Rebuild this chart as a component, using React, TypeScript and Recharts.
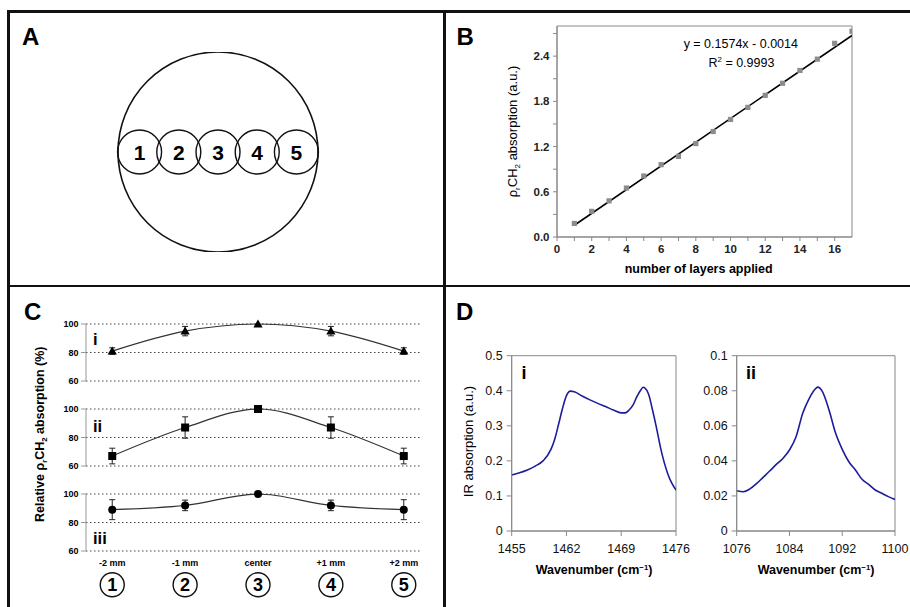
import React from 'react';
import {
  ComposedChart,
  LineChart,
  ScatterChart,
  Line,
  Scatter,
  XAxis,
  YAxis,
  CartesianGrid,
  ReferenceArea,
  ErrorBar,
} from 'recharts';

const FONT = 'Arial, "Liberation Sans", Helvetica, sans-serif';

// ---------------- Panel A: sample spots ----------------
const aSpotPositions = [1, 2, 3, 4, 5];
const aSpotLabels = ['1', '2', '3', '4', '5'];
const aSampleCenter = [3];

// ---------------- Panel B: calibration ----------------
const bLayers = [1, 2, 3, 4, 5, 6, 7, 8, 9, 10, 11, 12, 13, 14, 15, 16, 17];
const bAbsorption = [0.18, 0.34, 0.48, 0.65, 0.81, 0.96, 1.07, 1.24, 1.4, 1.56, 1.72, 1.88, 2.04, 2.21, 2.36, 2.57, 2.73];
const bFitLayers = [1, 17];
const bFitValues = [0.156, 2.674];
const bXTicks = [0, 1, 2, 3, 4, 5, 6, 7, 8, 9, 10, 11, 12, 13, 14, 15, 16];
const bYTicks = [0, 0.3, 0.6, 0.9, 1.2, 1.5, 1.8, 2.1, 2.4, 2.7];

// ---------------- Panel C: relative absorption ----------------
const cPositions = [1, 2, 3, 4, 5];
const cPosLabels = ['-2 mm', '-1 mm', 'center', '+1 mm', '+2 mm'];
const cSpotNumbers = ['1', '2', '3', '4', '5'];
const cYTicks = [60, 80, 100];
const cIValues = [81, 95, 100, 95, 81];
const cIErrors = [2.3, 3.3, 0, 3.3, 2.3];
const cIIValues = [67, 87, 100, 87, 67];
const cIIErrors = [5.5, 7.5, 0, 7.5, 5.5];
const cIIIValues = [89, 92, 100, 92, 89];
const cIIIErrors = [7, 3.7, 0, 3.7, 7];

// ---------------- Panel D: IR spectra ----------------
const dIWave = [1455, 1456, 1457, 1458, 1459, 1460, 1460.5, 1461, 1461.5, 1462, 1462.5, 1463, 1464, 1465, 1466, 1467, 1468, 1469, 1469.5, 1470, 1470.5, 1471, 1471.5, 1471.8, 1472, 1472.5, 1473, 1473.5, 1474, 1474.5, 1475, 1475.5, 1476];
const dIAbs = [0.16, 0.166, 0.174, 0.185, 0.2, 0.232, 0.262, 0.305, 0.35, 0.386, 0.399, 0.397, 0.385, 0.374, 0.364, 0.355, 0.345, 0.337, 0.337, 0.345, 0.359, 0.383, 0.402, 0.41, 0.408, 0.39, 0.345, 0.295, 0.24, 0.195, 0.16, 0.135, 0.117];
const dIXTicks = [1455, 1462, 1469, 1476];
const dIYTicks = [0, 0.1, 0.2, 0.3, 0.4, 0.5];

const dIIWave = [1076, 1077, 1078, 1079, 1080, 1081, 1082, 1083, 1084, 1085, 1086, 1087, 1088, 1088.3, 1089, 1090, 1091, 1092, 1093, 1094, 1095, 1096, 1097, 1098, 1099, 1100];
const dIIAbs = [0.023, 0.0224, 0.024, 0.027, 0.0306, 0.0342, 0.038, 0.0414, 0.0462, 0.0538, 0.067, 0.0757, 0.0814, 0.0821, 0.0795, 0.069, 0.0557, 0.0466, 0.0395, 0.0348, 0.0295, 0.0266, 0.0234, 0.0215, 0.0196, 0.018];
const dIIXTicks = [1076, 1084, 1092, 1100];
const dIIYTicks = [0, 0.02, 0.04, 0.06, 0.08, 0.1];

// ---------------- derived tables ----------------
const aOuter = aSampleCenter.map((x) => ({ x, y: 0 }));
const aSpots = aSpotPositions.map((x, i) => ({ x, y: 0, label: aSpotLabels[i] }));
const bPoints = bLayers.map((x, i) => ({ x, y: bAbsorption[i] }));
const bFit = bFitLayers.map((x, i) => ({ x, y: bFitValues[i] }));
const mkC = (vals: number[], errs: number[]) => cPositions.map((pos, i) => ({ pos, v: vals[i], err: errs[i] }));
const cIData = mkC(cIValues, cIErrors);
const cIIData = mkC(cIIValues, cIIErrors);
const cIIIData = mkC(cIIIValues, cIIIErrors);
const dIData = dIWave.map((w, i) => ({ w, a: dIAbs[i] }));
const dIIData = dIIWave.map((w, i) => ({ w, a: dIIAbs[i] }));

// ---------------- helpers ----------------
const Txt = ({ x, base, fs, weight = 'normal', anchor = 'start', children }: any) => {
  const style: any = {
    position: 'absolute',
    top: base - 0.8465 * fs,
    fontSize: fs,
    lineHeight: `${fs}px`,
    fontWeight: weight,
    color: '#000',
    whiteSpace: 'nowrap',
    fontFamily: FONT,
  };
  if (anchor === 'middle') return <div style={{ ...style, left: x - 200, width: 400, textAlign: 'center' }}>{children}</div>;
  return <div style={{ ...style, left: x }}>{children}</div>;
};

const RotTxt = ({ cx, cy, fs, weight = 'normal', children }: any) => (
  <div
    style={{
      position: 'absolute',
      left: cx - 200,
      top: cy - fs / 2,
      width: 400,
      height: fs,
      lineHeight: `${fs}px`,
      textAlign: 'center',
      fontSize: fs,
      fontWeight: weight,
      transform: 'rotate(-90deg)',
      whiteSpace: 'nowrap',
      fontFamily: FONT,
      color: '#000',
    }}
  >
    {children}
  </div>
);

const Sub = ({ fs, children }: any) => (
  <span style={{ fontSize: fs * 0.62, position: 'relative', top: fs * 0.25 }}>{children}</span>
);
const Sup = ({ fs, children }: any) => (
  <span style={{ fontSize: fs * 0.62, position: 'relative', top: -fs * 0.38 }}>{children}</span>
);

const Rule = ({ left, top, width, height }: any) => (
  <div style={{ position: 'absolute', left, top, width, height, background: '#111' }} />
);

// shapes
const OuterCircle = (p: any) => <circle cx={p.cx} cy={p.cy} r={100} fill="none" stroke="#111" strokeWidth={1.6} />;
const SpotCircle = (p: any) => (
  <g>
    <circle cx={p.cx} cy={p.cy} r={22} fill="none" stroke="#111" strokeWidth={1.4} />
    <text x={p.cx} y={p.cy + 7.5} textAnchor="middle" fontSize={21} fontWeight="bold" fontFamily={FONT} fill="#000">
      {p.payload.label}
    </text>
  </g>
);
const GraySquare = (p: any) => <rect x={p.cx - 2.6} y={p.cy - 2.6} width={5.2} height={5.2} fill="#8c8c8c" />;

const BXTick = (p: any) => {
  const v = p.payload.value;
  if (v % 2 !== 0) return <g />;
  return (
    <text x={p.x} y={p.y} dy="0.71em" textAnchor="middle" fontSize={11.5} fontWeight="bold" fill="#222" fontFamily={FONT}>
      {v}
    </text>
  );
};
const BYTick = (p: any) => {
  const v = p.payload.value;
  const idx = bYTicks.findIndex((t) => Math.abs(t - v) < 1e-6);
  if (idx % 2 !== 0) return <g />;
  return (
    <text x={p.x} y={p.y} dy="0.355em" textAnchor="end" fontSize={11.5} fontWeight="bold" fill="#222" fontFamily={FONT}>
      {v.toFixed(1)}
    </text>
  );
};

const CTick = (p: any) => {
  const i = cPositions.indexOf(p.payload.value);
  if (i < 0) return <g />;
  return (
    <g>
      <text x={p.x} y={p.y + 14.7} textAnchor="middle" fontSize={9} fontWeight="bold" fill="#000" fontFamily={FONT}>
        {cPosLabels[i]}
      </text>
      <circle cx={p.x} cy={p.y + 33.7} r={12} fill="none" stroke="#111" strokeWidth={1.4} />
      <text x={p.x} y={p.y + 40.1} textAnchor="middle" fontSize={18} fontWeight="bold" fill="#000" fontFamily={FONT}>
        {cSpotNumbers[i]}
      </text>
    </g>
  );
};

const triangleDot = (p: any) => (
  <path key={`t${p.index}`} d={`M${p.cx},${p.cy - 4.6}L${p.cx - 4.6},${p.cy + 3.4}L${p.cx + 4.6},${p.cy + 3.4}Z`} fill="#000" />
);
const squareDot = (p: any) => <rect key={`s${p.index}`} x={p.cx - 4} y={p.cy - 4} width={8} height={8} fill="#000" />;
const circleDot = (p: any) => <circle key={`c${p.index}`} cx={p.cx} cy={p.cy} r={4} fill="#000" />;

const CChart = ({ data, top, dot, withX }: any) => (
  <div style={{ position: 'absolute', left: 0, top }}>
    <ComposedChart
      width={445}
      height={withX ? 117 : 77}
      data={data}
      margin={{ top: 10, right: 23, bottom: withX ? 0 : 10, left: 46 }}
    >
      <CartesianGrid vertical={false} stroke="#444" strokeDasharray="1.5 2.5" />
      <XAxis
        type="number"
        dataKey="pos"
        domain={[0.64, 5.25]}
        ticks={cPositions}
        interval={0}
        hide={!withX}
        height={50}
        axisLine={false}
        tickLine={false}
        tickSize={0}
        tickMargin={0}
        tick={CTick}
        allowDataOverflow
      />
      <YAxis
        type="number"
        domain={[60, 100]}
        ticks={cYTicks}
        interval={0}
        width={40}
        tickSize={5}
        tickMargin={2.5}
        stroke="#999"
        tick={{ fontSize: 9, fontWeight: 'bold', fill: '#000', fontFamily: FONT }}
      />
      <Line dataKey="v" type="monotone" stroke="#333" strokeWidth={1.2} dot={dot} isAnimationActive={false}>
        <ErrorBar dataKey="err" width={3} stroke="#222" strokeWidth={1} direction="y" />
      </Line>
    </ComposedChart>
  </div>
);

const dTick = { fontSize: 12.5, fill: '#111', fontFamily: FONT };

export default function App() {
  return (
    <div
      style={{
        position: 'absolute',
        left: 0,
        top: 0,
        width: 910,
        height: 607,
        background: '#fff',
        fontFamily: FONT,
        overflow: 'hidden',
      }}
    >
      {/* frame */}
      <Rule left={7} top={10} width={903} height={2.5} />
      <Rule left={7} top={10} width={2.5} height={597} />
      <Rule left={443} top={10} width={2.5} height={597} />
      <Rule left={7} top={284.6} width={903} height={2.6} />

      {/* panel letters */}
      <Txt x={22} base={45.2} fs={24} weight="bold">A</Txt>
      <Txt x={456.5} base={45.2} fs={24} weight="bold">B</Txt>
      <Txt x={24} base={320} fs={24} weight="bold">C</Txt>
      <Txt x={456} base={320.5} fs={24} weight="bold">D</Txt>

      {/* Panel A */}
      <div style={{ position: 'absolute', left: 18, top: 52 }}>
        <ScatterChart width={400} height={200} margin={{ top: 0, right: 0, bottom: 0, left: 0 }}>
          <XAxis type="number" dataKey="x" domain={[-2.1, 8.1]} hide allowDataOverflow />
          <YAxis type="number" dataKey="y" domain={[-1, 1]} hide allowDataOverflow />
          <Scatter data={aOuter} shape={OuterCircle} isAnimationActive={false} />
          <Scatter data={aSpots} shape={SpotCircle} isAnimationActive={false} />
        </ScatterChart>
      </div>

      {/* Panel B */}
      <div style={{ position: 'absolute', left: 445, top: 0 }}>
        <ComposedChart width={465} height={290} margin={{ top: 26, right: 58, bottom: 23, left: 67 }}>
          <XAxis
            type="number"
            dataKey="x"
            domain={[0, 17]}
            ticks={bXTicks}
            interval={0}
            height={30}
            tickSize={4}
            tickMargin={4}
            stroke="#888"
            tick={BXTick}
            allowDataOverflow
          />
          <YAxis
            type="number"
            domain={[0, 2.8]}
            ticks={bYTicks}
            interval={0}
            width={45}
            tickSize={4}
            tickMargin={3.5}
            stroke="#888"
            tick={BYTick}
            allowDataOverflow
          />
          <ReferenceArea x1={0} x2={17} y1={0} y2={2.8} fill="none" stroke="#888" strokeWidth={1} />
          <Scatter data={bPoints} dataKey="y" shape={GraySquare} isAnimationActive={false} />
          <Line data={bFit} dataKey="y" type="linear" stroke="#000" strokeWidth={1.6} dot={false} isAnimationActive={false} />
        </ComposedChart>
      </div>
      <Txt x={740.8} base={48.5} fs={12.5} anchor="middle">y = 0.1574x - 0.0014</Txt>
      <Txt x={741.5} base={67.3} fs={12.5} anchor="middle">
        R<Sup fs={12.5}>2</Sup> = 0.9993
      </Txt>
      <Txt x={698.7} base={273.5} fs={12.5} weight="bold" anchor="middle">number of layers applied</Txt>
      <RotTxt cx={512} cy={131} fs={13}>
        ρ<Sub fs={13}>r</Sub>CH<Sub fs={13}>2</Sub> absorption (a.u.)
      </RotTxt>

      {/* Panel C */}
      <CChart data={cIData} top={314.3} dot={triangleDot} withX={false} />
      <CChart data={cIIData} top={399.3} dot={squareDot} withX={false} />
      <CChart data={cIIIData} top={484.3} dot={circleDot} withX={true} />
      <Txt x={93} base={345} fs={16.5} weight="bold">i</Txt>
      <Txt x={93} base={432} fs={16.5} weight="bold">ii</Txt>
      <Txt x={93} base={544} fs={16.5} weight="bold">iii</Txt>
      <RotTxt cx={40} cy={434.2} fs={12.5} weight="bold">
        Relative ρ<Sub fs={12.5}>r</Sub>CH<Sub fs={12.5}>2</Sub> absorption (%)
      </RotTxt>

      {/* Panel D i */}
      <div style={{ position: 'absolute', left: 445, top: 330 }}>
        <LineChart width={255} height={260} data={dIData} margin={{ top: 25.7, right: 24, bottom: 29, left: 16.7 }}>
          <XAxis
            type="number"
            dataKey="w"
            domain={[1455, 1476]}
            ticks={dIXTicks}
            interval={0}
            height={30}
            tickSize={5}
            tickMargin={8.5}
            stroke="#888"
            tick={dTick}
            allowDataOverflow
          />
          <YAxis
            type="number"
            domain={[0, 0.5]}
            ticks={dIYTicks}
            interval={0}
            width={50}
            tickSize={5}
            tickMargin={4}
            stroke="#888"
            tick={dTick}
            allowDataOverflow
          />
          <ReferenceArea x1={1455} x2={1476} y1={0} y2={0.5} fill="none" stroke="#888" strokeWidth={1} />
          <Line dataKey="a" type="monotone" stroke="#1c1c9c" strokeWidth={1.6} dot={false} isAnimationActive={false} />
        </LineChart>
      </div>

      {/* Panel D ii */}
      <div style={{ position: 'absolute', left: 700, top: 330 }}>
        <LineChart width={210} height={260} data={dIIData} margin={{ top: 25.7, right: 15, bottom: 29, left: -7.3 }}>
          <XAxis
            type="number"
            dataKey="w"
            domain={[1076, 1100]}
            ticks={dIIXTicks}
            interval={0}
            height={30}
            tickSize={5}
            tickMargin={8.5}
            stroke="#888"
            tick={dTick}
            allowDataOverflow
          />
          <YAxis
            type="number"
            domain={[0, 0.1]}
            ticks={dIIYTicks}
            interval={0}
            width={44}
            tickSize={5}
            tickMargin={4}
            stroke="#888"
            tick={dTick}
            allowDataOverflow
          />
          <ReferenceArea x1={1076} x2={1100} y1={0} y2={0.1} fill="none" stroke="#888" strokeWidth={1} />
          <Line dataKey="a" type="monotone" stroke="#1c1c9c" strokeWidth={1.6} dot={false} isAnimationActive={false} />
        </LineChart>
      </div>
      <Txt x={521.5} base={379.3} fs={18} weight="bold">i</Txt>
      <Txt x={746} base={379.3} fs={18} weight="bold">ii</Txt>
      <Txt x={594} base={575} fs={12.5} weight="bold" anchor="middle">
        Wavenumber (cm<Sup fs={12.5}>−1</Sup>)
      </Txt>
      <Txt x={816} base={575} fs={12.5} weight="bold" anchor="middle">
        Wavenumber (cm<Sup fs={12.5}>−1</Sup>)
      </Txt>
      <RotTxt cx={468.3} cy={441.7} fs={13}>
        IR absorption (a.u.)
      </RotTxt>
    </div>
  );
}
